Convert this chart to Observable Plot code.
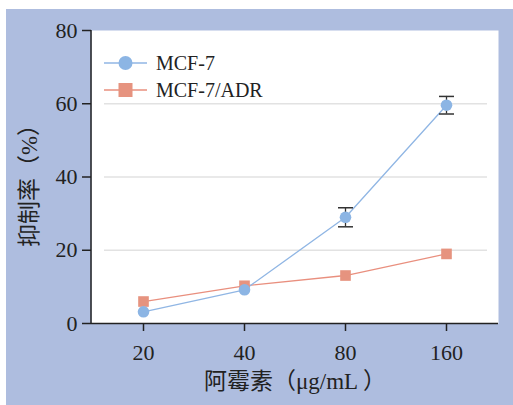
<!DOCTYPE html>
<html><head><meta charset="utf-8">
<script src="https://cdn.jsdelivr.net/npm/d3@7"></script>
<script src="https://cdn.jsdelivr.net/npm/@observablehq/plot@0.6"></script>
<style>body{margin:0;background:#fff;} #chart{position:absolute;left:0;top:0;}</style>
</head><body><div id="chart"></div>
<script>
// ---- data ----
const doses = ["20", "40", "80", "160"];
const mcf7 = [3.2, 9.2, 29.0, 59.6];
const mcf7Err = [0, 0, 2.6, 2.4];
const adr = [6.0, 10.3, 13.1, 19.0];
const seriesNames = ["MCF-7", "MCF-7/ADR"];
const yTicks = [0, 20, 40, 60, 80];
const gridTicks = [20, 40, 60];
const xTitle = "阿霉素（μg/mL ）";
const yTitle = "抑制率（%）";

// ---- styles ----
const blue = "#8cb5e4", blueLine = "#90b6e4";
const salmon = "#e6937f", salmonLine = "#e98f7e";
const bg = "#aebddf";
const serif = "'Liberation Serif', 'Noto Sans CJK SC', serif";

const rows = [];
doses.forEach((d, i) => rows.push({dose: d, value: mcf7[i], err: mcf7Err[i], series: seriesNames[0]}));
doses.forEach((d, i) => rows.push({dose: d, value: adr[i], err: 0, series: seriesNames[1]}));
const mcfRows = rows.filter(r => r.series === seriesNames[0]);
const adrRows = rows.filter(r => r.series === seriesNames[1]);
const errRows = mcfRows.filter(r => r.err > 0);

const capSymbol = {draw(ctx, size) { const r = Math.sqrt(size / Math.PI); ctx.moveTo(-r, 0); ctx.lineTo(r, 0); }};

function background(index, scales, values, dim) {
  const g = d3.create("svg:g");
  g.append("rect").attr("x", 6).attr("y", 9).attr("width", dim.width - 6).attr("height", dim.height - 9).attr("fill", bg);
  return g.node();
}
function yAxisLine(index, scales, values, dim) {
  const g = d3.create("svg:g");
  g.append("line").attr("x1", dim.marginLeft).attr("x2", dim.marginLeft)
    .attr("y1", dim.marginTop).attr("y2", dim.height - dim.marginBottom)
    .attr("stroke", "#222").attr("stroke-width", 1.5);
  return g.node();
}
function legend(index, scales, values, dim) {
  const g = d3.create("svg:g").attr("font-family", serif).attr("font-size", 20).attr("fill", "#222").attr("text-anchor", "start");
  const items = [
    {name: seriesNames[0], line: blueLine, fill: blue, shape: "circle"},
    {name: seriesNames[1], line: salmonLine, fill: salmon, shape: "square"}
  ];
  const x0 = dim.marginLeft + 13, x1 = dim.marginLeft + 56, tx = dim.marginLeft + 65;
  items.forEach((it, i) => {
    const y = dim.marginTop + 33 + i * 27;
    g.append("line").attr("x1", x0).attr("x2", x1).attr("y1", y).attr("y2", y).attr("stroke", it.line).attr("stroke-width", 1.3);
    const cx = (x0 + x1) / 2;
    if (it.shape === "circle") g.append("circle").attr("cx", cx).attr("cy", y).attr("r", 7).attr("fill", it.fill);
    else g.append("rect").attr("x", cx - 7).attr("y", y - 7).attr("width", 14).attr("height", 14).attr("fill", it.fill);
    g.append("text").attr("x", tx).attr("y", y).attr("dy", "0.35em").text(it.name);
  });
  return g.node();
}

const chart = Plot.plot({
  width: 513,
  height: 405,
  marginLeft: 91,
  marginRight: 15,
  marginTop: 30,
  marginBottom: 82,
  style: {fontFamily: serif, fontSize: "22px", color: "#222", background: "transparent"},
  x: {type: "point", domain: doses, padding: 0.5, label: null},
  y: {domain: [0, 80], label: null},
  marks: [
    background,
    Plot.frame({fill: "white", stroke: "none"}),
    Plot.ruleY(gridTicks, {stroke: "#e2e2e2", strokeWidth: 1.5, insetLeft: 13, insetRight: 11}),
    Plot.axisY({ticks: yTicks, tickSize: 9, tickPadding: 5, label: null, fontSize: 22, stroke: "#222", strokeWidth: 1.5}),
    Plot.axisX({tickSize: 8, tickPadding: 13, label: null, fontSize: 22, stroke: "#222", strokeWidth: 1.5}),
    Plot.ruleY([0], {stroke: "#222", strokeWidth: 1.5}),
    yAxisLine,
    Plot.line(adrRows, {x: "dose", y: "value", stroke: salmonLine, strokeWidth: 1.3}),
    Plot.line(mcfRows, {x: "dose", y: "value", stroke: blueLine, strokeWidth: 1.3}),
    Plot.ruleX(errRows, {x: "dose", y1: d => d.value - d.err, y2: d => d.value + d.err, stroke: "#333", strokeWidth: 1.3}),
    Plot.dot(errRows, {x: "dose", y: d => d.value + d.err, symbol: capSymbol, r: 7.5, stroke: "#333", strokeWidth: 1.5, fill: "none"}),
    Plot.dot(errRows, {x: "dose", y: d => d.value - d.err, symbol: capSymbol, r: 7.5, stroke: "#333", strokeWidth: 1.5, fill: "none"}),
    Plot.dot(adrRows, {x: "dose", y: "value", symbol: "square", r: 6, fill: salmon}),
    Plot.dot(mcfRows, {x: "dose", y: "value", symbol: "circle", r: 5.8, fill: blue}),
    legend,
    Plot.text([xTitle], {frameAnchor: "bottom", dy: 58, lineAnchor: "middle", textAnchor: "middle", fontSize: 23, fill: "#222"}),
    Plot.text([yTitle], {frameAnchor: "left", dx: -62, dy: 3, rotate: -90, lineAnchor: "middle", textAnchor: "middle", fontSize: 23, fill: "#222"})
  ]
});
document.getElementById("chart").appendChild(chart);
</script>
</body></html>
